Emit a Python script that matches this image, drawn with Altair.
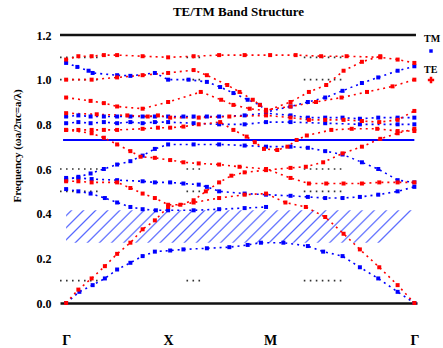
import altair as alt
import pandas as pd

# ---------------- data ----------------
# k-path positions: Gamma=0, X=1, M=2, Gamma=2+sqrt(2)
tick_pos = [0, 1, 2, 3.414]
tick_lab = ["Γ", "X", "M", "Γ"]
y_ticks = [0.0, 0.2, 0.4, 0.6, 0.8, 1.0, 1.2]

# TE bands (red)
te1_k = [0, 0.12, 0.25, 0.37, 0.5, 0.75, 1.0, 1.25, 1.5, 1.75, 2.0, 2.25, 2.5, 2.75, 3.08, 3.25, 3.414]
te1_f = [1.09, 1.105, 1.105, 1.11, 1.11, 1.105, 1.10, 1.105, 1.11, 1.11, 1.11, 1.11, 1.105, 1.105, 1.10, 1.09, 1.075]
te2_k = [0, 0.25, 0.5, 0.75, 1.0, 1.25, 1.38, 1.58, 1.7, 1.83, 1.9, 1.96, 2.2, 2.45, 2.7, 2.95, 3.2, 3.414]
te2_f = [1.0, 1.0, 1.01, 1.02, 1.03, 1.043, 1.02, 0.976, 0.945, 0.91, 0.887, 0.865, 0.88, 0.9, 0.92, 0.945, 0.97, 1.0]
te3_k = [0, 0.24, 0.37, 0.5, 0.75, 1.0, 1.32, 1.52, 1.64, 1.8, 1.96, 2.2, 2.38, 2.55, 2.72, 2.9, 3.08]
te3_f = [0.92, 0.905, 0.895, 0.88, 0.87, 0.9, 0.945, 0.91, 0.887, 0.87, 0.86, 0.9, 0.945, 0.976, 1.04, 1.08, 1.105]
te4_k = [0, 0.12, 0.25, 0.37, 0.5, 0.75, 0.9, 1.02, 1.15, 1.3, 1.51, 1.64, 1.77, 1.85, 1.94, 2.07, 2.17, 2.26, 2.36, 2.6, 2.8, 3.05, 3.25, 3.414]
te4_f = [0.775, 0.775, 0.775, 0.775, 0.775, 0.78, 0.785, 0.785, 0.79, 0.8, 0.81, 0.775, 0.745, 0.72, 0.69, 0.685, 0.7, 0.73, 0.75, 0.775, 0.78, 0.78, 0.77, 0.77]
te5_k = [0, 0.3, 0.6, 0.8, 0.9, 1.02, 1.3, 1.6, 1.96, 2.2, 2.38, 2.54, 2.72, 2.9, 3.07, 3.25, 3.414]
te5_f = [0.85, 0.845, 0.84, 0.835, 0.84, 0.83, 0.83, 0.835, 0.84, 0.83, 0.82, 0.82, 0.82, 0.815, 0.81, 0.82, 0.86]
te6_k = [0, 0.25, 0.37, 0.5, 0.63, 0.73, 0.87, 1.02, 1.15, 1.3, 1.5, 1.7, 1.96, 2.2, 2.38, 2.55, 2.72, 2.9, 3.07, 3.25, 3.414]
te6_f = [0.775, 0.76, 0.74, 0.71, 0.68, 0.655, 0.65, 0.64, 0.63, 0.625, 0.62, 0.61, 0.6, 0.56, 0.535, 0.535, 0.535, 0.535, 0.54, 0.54, 0.54]
te7_k = [0, 0.12, 0.25, 0.5, 0.63, 0.75, 0.87, 1.0, 1.12, 1.25, 1.37, 1.5, 1.62, 1.75, 1.96, 2.2, 2.35, 2.52, 2.71, 2.9, 3.08, 3.25, 3.414]
te7_f = [0.545, 0.545, 0.54, 0.54, 0.515, 0.49, 0.47, 0.44, 0.44, 0.46, 0.5, 0.54, 0.57, 0.585, 0.595, 0.605, 0.61, 0.63, 0.67, 0.70, 0.735, 0.76, 0.78]
te8_k = [0, 0.12, 0.25, 0.38, 0.5, 0.63, 0.75, 0.87, 1.0, 1.25, 1.5, 1.75, 1.96, 2.15, 2.35, 2.54, 2.72, 2.88, 3.07, 3.25, 3.414]
te8_f = [0, 0.06, 0.11, 0.165, 0.22, 0.27, 0.33, 0.37, 0.43, 0.45, 0.47, 0.485, 0.49, 0.45, 0.43, 0.385, 0.31, 0.24, 0.16, 0.08, 0]

# TM bands (blue)
tm1_k = [0, 0.13, 0.26, 0.38, 0.5, 0.63, 0.75, 0.87, 1.02, 1.15, 1.38, 1.6, 1.78, 1.91, 2.13, 2.37, 2.52, 2.71, 2.88, 3.06, 3.25, 3.414]
tm1_f = [0, 0.05, 0.08, 0.11, 0.15, 0.18, 0.21, 0.23, 0.235, 0.24, 0.245, 0.25, 0.26, 0.27, 0.27, 0.255, 0.23, 0.21, 0.16, 0.11, 0.05, 0]
tm2_k = [0, 0.12, 0.24, 0.38, 0.5, 0.63, 0.75, 0.88, 1.0, 1.25, 1.5, 1.75, 1.96]
tm2_f = [0.51, 0.5, 0.49, 0.47, 0.45, 0.43, 0.42, 0.415, 0.415, 0.415, 0.42, 0.425, 0.43]
tm3_k = [0, 0.12, 0.24, 0.37, 0.5, 0.63, 0.75, 0.87, 1.0, 1.25, 1.5, 1.75, 1.96, 2.2, 2.37, 2.54, 2.71, 2.9, 3.06, 3.25, 3.414]
tm3_f = [0.55, 0.565, 0.58, 0.6, 0.62, 0.635, 0.66, 0.69, 0.71, 0.71, 0.71, 0.705, 0.7, 0.7, 0.695, 0.68, 0.665, 0.63, 0.6, 0.55, 0.54]
tm4_k = [0, 0.11, 0.22, 0.26, 0.5, 0.63, 0.87, 1.0, 1.2, 1.38, 1.51, 1.64, 1.78, 1.9, 1.96, 2.2, 2.37, 2.54, 2.71, 2.9, 3.06, 3.25, 3.414]
tm4_f = [1.075, 1.057, 1.04, 1.03, 1.02, 1.017, 1.03, 1.0, 1.0, 0.99, 0.967, 0.94, 0.91, 0.887, 0.855, 0.88, 0.9, 0.92, 0.95, 0.985, 1.01, 1.04, 1.06]
tm5_k = [0, 0.12, 0.24, 0.37, 0.5, 0.63, 0.75, 0.87, 1.0, 1.15, 1.25, 1.38, 1.5, 1.75, 1.96, 2.2, 2.37, 2.54, 2.71, 2.88, 3.06, 3.25, 3.414]
tm5_f = [0.835, 0.84, 0.835, 0.835, 0.835, 0.835, 0.835, 0.835, 0.835, 0.835, 0.835, 0.835, 0.835, 0.84, 0.85, 0.84, 0.83, 0.83, 0.83, 0.825, 0.83, 0.83, 0.83]
tm6_k = [0, 0.12, 0.24, 0.37, 0.5, 0.63, 0.75, 0.87, 1.0, 1.25, 1.5, 1.75, 1.96, 2.2, 2.54, 2.88, 3.25, 3.414]
tm6_f = [0.805, 0.81, 0.805, 0.81, 0.805, 0.81, 0.805, 0.81, 0.81, 0.805, 0.8, 0.8, 0.81, 0.81, 0.805, 0.8, 0.8, 0.8]
tm7_k = [0, 0.12, 0.25, 0.5, 0.75, 0.87, 1.02, 1.15, 1.3, 1.38, 1.5, 1.75, 1.96, 2.2, 2.37, 2.54, 2.71, 2.88, 3.06, 3.25, 3.414]
tm7_f = [0.56, 0.56, 0.555, 0.55, 0.545, 0.54, 0.54, 0.535, 0.53, 0.52, 0.5, 0.49, 0.485, 0.48, 0.475, 0.47, 0.47, 0.475, 0.485, 0.5, 0.52]

# flat TM line, hatched TM region, black dotted guide levels
tm_flat_f = 0.73
hatch_k = [0, 3.414]
hatch_f = [0.27, 0.415]
guide_levels = [0.1, 0.5, 0.6, 1.0, 1.1]
guide_windows = [(-0.06, 0.33), (1.18, 1.33), (2.33, 2.7)]

# ---------------- tables ----------------
bands = [
    ("tm1", "TM", tm1_k, tm1_f), ("tm2", "TM", tm2_k, tm2_f), ("tm3", "TM", tm3_k, tm3_f),
    ("tm4", "TM", tm4_k, tm4_f), ("tm5", "TM", tm5_k, tm5_f), ("tm6", "TM", tm6_k, tm6_f),
    ("tm7", "TM", tm7_k, tm7_f),
    ("te1", "TE", te1_k, te1_f), ("te2", "TE", te2_k, te2_f), ("te3", "TE", te3_k, te3_f),
    ("te4", "TE", te4_k, te4_f), ("te5", "TE", te5_k, te5_f), ("te6", "TE", te6_k, te6_f),
    ("te7", "TE", te7_k, te7_f), ("te8", "TE", te8_k, te8_f),
]
rows = []
for name, pol, ks, fs in bands:
    assert len(ks) == len(fs), name
    for i, (k, f) in enumerate(zip(ks, fs)):
        rows.append({"band": name, "pol": pol, "k": k, "f": f, "i": i})
df = pd.DataFrame(rows)

guide_rows = []
for lv in guide_levels:
    for a, b in guide_windows:
        guide_rows.append({"k": a, "k1": b, "f": lv})
df_guide = pd.DataFrame(guide_rows)

df_hatch = pd.DataFrame({"k": [hatch_k[0]], "k1": [hatch_k[1]], "f": [hatch_f[0]], "f1": [hatch_f[1]]})
df_flat = pd.DataFrame({"k": [-0.03], "k1": [3.414], "f": [tm_flat_f]})
df_top = pd.DataFrame({"k": [-0.06], "k1": [3.43], "f": [1.2]})
df_one = pd.DataFrame({"a": [0]})

# ---------------- chart ----------------
FONT = "Liberation Serif"
xs = alt.Scale(domain=[-0.06, 3.44], nice=False, zero=False)
ys = alt.Scale(domain=[0, 1.2], nice=False, zero=False)

label_expr = " : ".join(
    [f"datum.value < {(tick_pos[i] + tick_pos[i + 1]) / 2} ? '{tick_lab[i]}'" for i in range(len(tick_pos) - 1)]
) + f" : '{tick_lab[-1]}'"

x_axis = alt.Axis(values=tick_pos, labelExpr=label_expr, title=None, ticks=False, grid=False,
                  domain=True, domainColor="#111111", domainWidth=2.5, labelFont=FONT,
                  labelFontWeight="bold", labelFontSize=14, labelPadding=30, labelColor="black",
                  labelFlush=False, labelOverlap=False)
y_axis = alt.Axis(values=y_ticks, format=".1f", domain=False, ticks=False, grid=False,
                  labelFont=FONT, labelFontWeight="bold", labelFontSize=12, labelPadding=9,
                  labelColor="black", labelOverlap=False,
                  title="Frequency (ωa/2πc=a/λ)", titleFont=FONT, titleFontWeight="bold",
                  titleFontSize=11, titleColor="black", titleAngle=270, titleAlign="left",
                  titleBaseline="middle", titleX=-43, titleY=167)

X = alt.X("k:Q", scale=xs, axis=x_axis)
Y = alt.Y("f:Q", scale=ys, axis=y_axis)

# hatch pattern (soft diagonal stripes) as a fill style
W, H = 348.0, 32.4
n_stripes = 29
period = 1.0 / n_stripes
w = period * 0.14
stops = [{"offset": 0.0, "color": "#ffffff"}]
for s in range(n_stripes + 1):
    o = s * period + period * 0.3
    if o + 2 * w > 1:
        break
    stops.append({"offset": round(o, 5), "color": "#ffffff"})
    stops.append({"offset": round(o + w, 5), "color": "#5566ff"})
    stops.append({"offset": round(o + 2 * w, 5), "color": "#ffffff"})
stops.append({"offset": 1.0, "color": "#ffffff"})
hatch_fill = {"gradient": "linear", "x1": 0, "y1": 0, "x2": 1, "y2": round(H / W, 4), "stops": stops}

hatch = alt.Chart(df_hatch).mark_rect(fill=hatch_fill).encode(x=X, x2="k1:Q", y=Y, y2="f1:Q")

guides = alt.Chart(df_guide).mark_rule(color="#333333", strokeWidth=1.6, strokeDash=[1.6, 4.4]).encode(
    x=X, x2="k1:Q", y=Y)

flat = alt.Chart(df_flat).mark_rule(color="#0000ff", strokeWidth=2).encode(x=X, x2="k1:Q", y=Y)

top = alt.Chart(df_top).mark_rule(color="#111111", strokeWidth=2.5).encode(x=X, x2="k1:Q", y=Y)

color = alt.Color("pol:N", scale=alt.Scale(domain=["TM", "TE"], range=["#0000ff", "#ff0000"]), legend=None)

lines = alt.Chart(df).mark_line(strokeDash=[2, 4], strokeWidth=1.6).encode(
    x=X, y=Y, color=color, detail="band:N", order="i:Q")

points = alt.Chart(df).mark_point(shape="square", filled=True, size=16, opacity=1).encode(
    x=X, y=Y, color=color)

leg_tm = alt.Chart(df_one).mark_text(text="TM", align="left", baseline="middle", font=FONT,
                                     fontWeight="bold", fontSize=10, color="black").encode(
    x=alt.value(364), y=alt.value(4))
leg_tm_s = alt.Chart(df_one).mark_point(shape="square", filled=True, size=12, color="#0000ff", opacity=1).encode(
    x=alt.value(371), y=alt.value(16))
leg_te = alt.Chart(df_one).mark_text(text="TE", align="left", baseline="middle", font=FONT,
                                     fontWeight="bold", fontSize=10, color="black").encode(
    x=alt.value(364), y=alt.value(35))
leg_te_s = alt.Chart(df_one).mark_point(shape="cross", filled=True, size=40, color="#ff0000", opacity=1).encode(
    x=alt.value(371), y=alt.value(45))

chart = alt.layer(hatch, guides, flat, lines, points, top, leg_tm, leg_tm_s, leg_te, leg_te_s).properties(
    width=357, height=268,
    autosize=alt.AutoSizeParams(type="none"),
    padding={"left": 60, "top": 35, "right": 26, "bottom": 45},
    title=alt.TitleParams("TE/TM Band Structure", font=FONT, fontWeight="bold", fontSize=13,
                          anchor="middle", offset=10, color="black"),
).configure_view(stroke=None)

chart.save("out.html", embed_options={"renderer": "svg", "actions": False})
